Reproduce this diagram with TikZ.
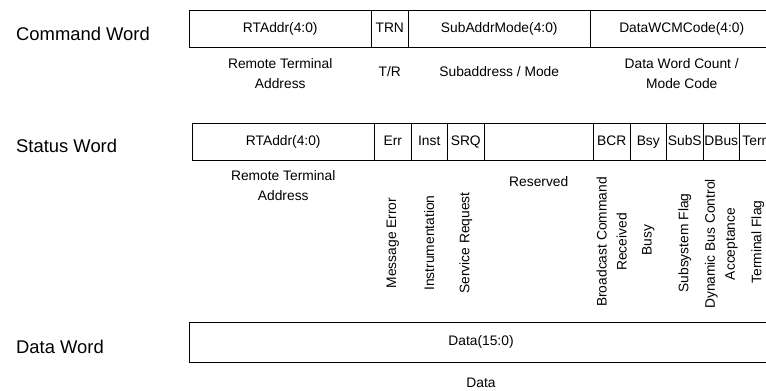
\documentclass[tikz,border=0pt]{standalone}
\usepackage{fontspec}
\setmainfont{Liberation Sans}
\usetikzlibrary{positioning}
\newcommand{\bitw}{36.5pt}
\newcommand{\fieldfont}{\fontsize{13.8}{20}\selectfont}
\tikzset{
  field/.style={draw, rectangle, line width=0.9pt, minimum height=37pt, inner sep=0pt, outer sep=0pt,
    text height=10pt, text depth=3pt, anchor=west},
  note/.style={align=center, inner sep=0pt},
  vnote/.style={note, rotate=90},
  rowlbl/.style={font=\fontsize{18.4}{22}\selectfont, anchor=west, inner sep=0pt}
}
\begin{document}
\begin{tikzpicture}[x=1pt, y=-1pt, font=\fieldfont]
\clip (0,0) rectangle (766,391);

% command word
\node[rowlbl] (lcmd) at (16,34) {Command Word};
\node[field, minimum width=5*\bitw] (crt) at (189,28.5) {RTAddr(4:0)};
\node[field, minimum width=\bitw, right=0pt of crt] (ctrn) {TRN};
\node[field, minimum width=5*\bitw, right=0pt of ctrn] (csub) {SubAddrMode(4:0)};
\node[field, minimum width=5*\bitw, right=0pt of csub] (cwc) {DataWCMCode(4:0)};
\node[note] at (crt |- 0,74) {Remote Terminal\\Address};
\node[note] at (ctrn |- 0,72) {T/R};
\node[note] at (csub |- 0,72) {Subaddress / Mode};
\node[note] at (cwc |- 0,74) {Data Word Count /\\Mode Code};

% status word
\node[rowlbl] (lsts) at (16,146) {Status Word};
\node[field, minimum width=5*\bitw] (srt) at (192,141.5) {RTAddr(4:0)};
\node[field, minimum width=\bitw, right=0pt of srt] (serr) {Err};
\node[field, minimum width=\bitw, right=0pt of serr] (sins) {Inst};
\node[field, minimum width=\bitw, right=0pt of sins] (ssrq) {SRQ};
\node[field, minimum width=3*\bitw, right=0pt of ssrq] (sres) {};
\node[field, minimum width=\bitw, right=0pt of sres] (sbcr) {BCR};
\node[field, minimum width=\bitw, right=0pt of sbcr] (sbsy) {Bsy};
\node[field, minimum width=\bitw, right=0pt of sbsy] (ssub) {SubS};
\node[field, minimum width=\bitw, right=0pt of ssub] (sdb) {DBus};
\node[field, minimum width=\bitw, right=0pt of sdb] (strm) {Term};
\node[note] at (srt |- 0,186) {Remote Terminal\\Address};
\node[note] at (sres |- 0,182) {Reserved};
\node[vnote] at (serr |- 0,243) {Message Error};
\node[vnote] at (sins |- 0,243) {Instrumentation};
\node[vnote] at (ssrq |- 0,243) {Service Request};
\node[vnote] at (sbcr |- 0,242) {Broadcast Command\\Received};
\node[vnote] at (sbsy |- 0,240) {Busy};
\node[vnote] at (ssub |- 0,243) {Subsystem Flag};
\node[vnote] at (sdb |- 0,244) {Dynamic Bus Control\\Acceptance};
\node[vnote] at (strm |- 0,242) {Terminal Flag};

% data word
\node[rowlbl] (ldat) at (16,347) {Data Word};
\node[field, minimum width=16*\bitw, minimum height=40pt] (dd) at (189,342) {Data(15:0)};
\node[note] at (dd |- 0,383) {Data};
\end{tikzpicture}
\end{document}
